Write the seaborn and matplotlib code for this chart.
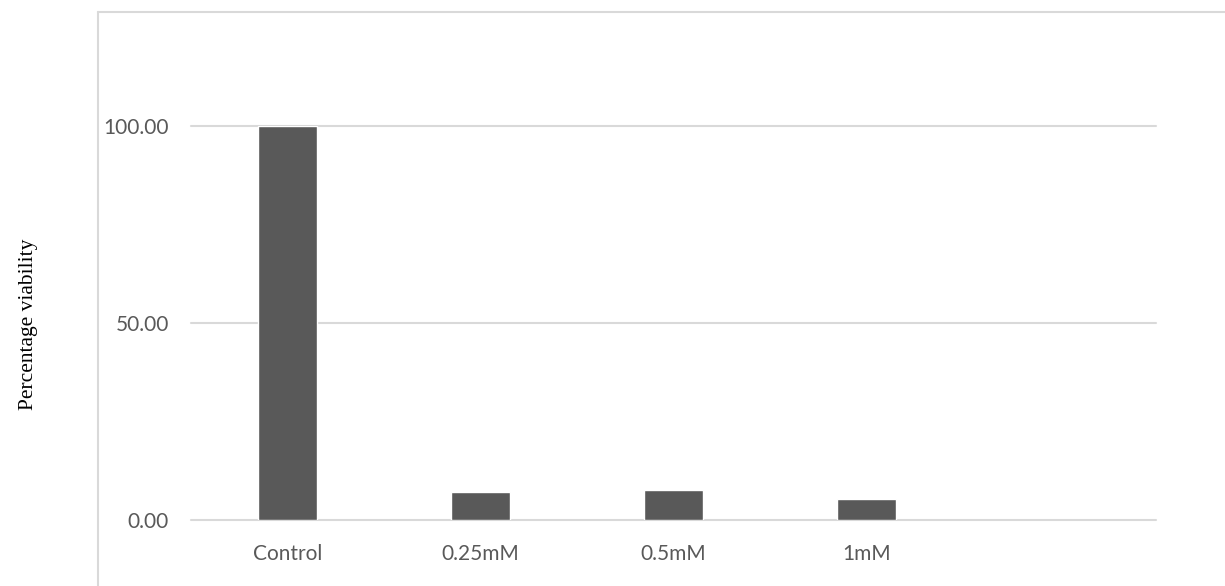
import matplotlib
matplotlib.use("Agg")
import matplotlib.pyplot as plt
from matplotlib.lines import Line2D
import seaborn as sns
import pandas as pd

categories = ["Control", "0.25mM", "0.5mM", "1mM"]
viability = [100.0, 7.0, 7.5, 5.3]
y_ticks = [0, 50, 100]
y_tick_labels = ["0.00", "50.00", "100.00"]

df = pd.DataFrame({"treatment": categories, "viability": viability})

sns.set_theme(style="white")
plt.rcParams["font.family"] = ["Lato", "DejaVu Sans"]

W, H = 1225, 586
fig = plt.figure(figsize=(W / 100, H / 100), dpi=100)
ax = fig.add_axes([191 / W, (H - 520) / H, (1156 - 191) / W, (520 - 126) / H])

sns.barplot(data=df, x="treatment", y="viability", color="#595959",
            saturation=1, width=0.31, ax=ax, zorder=3)

ax.set_xlim(-0.5, 4.5)
ax.set_ylim(0, 100)
ax.set_yticks(y_ticks)
ax.set_yticklabels(y_tick_labels)
for y in y_ticks:
    ax.axhline(y, color="#d9d9d9", lw=1.5, zorder=1, clip_on=False)

for s in ax.spines.values():
    s.set_visible(False)
ax.tick_params(axis="both", length=0, colors="#595959", labelsize=15)
ax.tick_params(axis="y", pad=16)
ax.tick_params(axis="x", pad=17)
ax.set_xlabel("")
ax.set_ylabel("")

fig.text(29 / W, (H - 324) / H, "Percentage viability",
         rotation=90, ha="center", va="center", fontsize=15.5,
         family=["Liberation Serif", "DejaVu Serif"], color="black")

# chart area border
fig.add_artist(Line2D([98 / W, 98 / W], [0, (H - 11.5) / H], color="#d9d9d9", lw=1.5))
fig.add_artist(Line2D([98 / W, 1], [(H - 11.5) / H, (H - 11.5) / H], color="#d9d9d9", lw=1.5))

fig.savefig("out.png", dpi=100, facecolor="white")
